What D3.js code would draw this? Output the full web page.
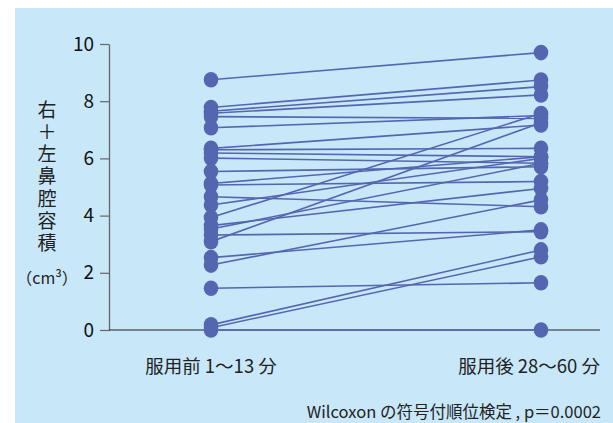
<!DOCTYPE html>
<html><head><meta charset="utf-8">
<script src="https://cdn.jsdelivr.net/npm/d3@7"></script>
<style>body{margin:0;background:#fff}svg{display:block}</style>
</head><body>
<svg id="c" width="613" height="423"></svg>
<script>
const categories = ["服用前 1〜13 分", "服用後 28〜60 分"];
const before = [8.75, 7.78, 7.65, 7.58, 7.46, 7.07, 6.35, 6.30, 6.19, 6.01, 5.54, 5.12, 5.07, 4.66, 4.37, 3.93, 3.65, 3.53, 3.32, 3.09, 2.53, 2.27, 1.46, 0.18, 0.08, 0.0];
const after  = [9.70, 8.74, 8.51, 8.22, 7.40, 7.50, 7.17, 6.35, 6.06, 5.83, 5.71, 6.06, 5.19, 4.31, 6.00, 7.57, 4.95, 5.83, 3.44, 7.25, 3.50, 4.55, 1.65, 2.80, 2.56, 0.0];
const yTicks = [0, 2, 4, 6, 8, 10];
const yTitle = "右＋左鼻腔容積";
const yUnit = "（cm³）";
const note = "Wilcoxon の符号付順位検定 , p＝0.0002";

const svg = d3.select("#c");
const font = "'Noto Sans CJK JP','Noto Sans',sans-serif";
svg.append("rect").attr("x", 15).attr("y", 8).attr("width", 598).attr("height", 415).attr("fill", "#c8e7f9");

const y = d3.scaleLinear().domain([0, 10]).range([330, 44]);
const x = d3.scalePoint().domain(categories).range([211, 541]);
const col = "#5566b0";

// y axis
const ya = svg.append("g").attr("transform", "translate(109,0)")
  .call(d3.axisLeft(y).tickValues(yTicks).tickSize(9).tickPadding(6).tickSizeOuter(0));
ya.select(".domain").attr("stroke", "#666").attr("stroke-width", 1.3);
ya.selectAll(".tick line").attr("stroke", "#666").attr("stroke-width", 1.2);
ya.selectAll(".tick text").attr("font-family", font).attr("font-size", 19).attr("fill", "#111");

// x axis baseline
svg.append("line").attr("x1", 109).attr("x2", 600).attr("y1", y(0)).attr("y2", y(0)).attr("stroke", "#222").attr("stroke-width", 1);

// lines
const pairs = before.map((b, i) => [b, after[i]]);
svg.append("g").selectAll("line").data(pairs).join("line")
  .attr("x1", x(categories[0])).attr("x2", x(categories[1]))
  .attr("y1", d => y(d[0])).attr("y2", d => y(d[1]))
  .attr("stroke", col).attr("stroke-width", 1.6);

// dots
const g = svg.append("g");
[before, after].forEach((arr, k) => {
  g.selectAll(null).data(arr).join("ellipse")
    .attr("cx", x(categories[k])).attr("cy", d => y(d))
    .attr("rx", 7.3).attr("ry", 7.8).attr("fill", col);
});

// y title (vertical writing)
svg.append("text").attr("x", 47).attr("y", 100)
  .attr("font-family", font).attr("font-size", 19).attr("fill", "#222")
  .style("writing-mode", "vertical-rl").style("text-orientation", "upright")
  .style("letter-spacing", "3.2px")
  .text(yTitle);
svg.append("text").attr("x", 47).attr("y", 284).attr("text-anchor", "middle")
  .attr("font-family", font).attr("font-size", 16).attr("fill", "#222").text(yUnit);

// category labels
svg.append("text").attr("x", x(categories[0])).attr("y", 373).attr("text-anchor", "middle")
  .attr("font-family", font).attr("font-size", 18.5).attr("fill", "#222").text(categories[0]);
svg.append("text").attr("x", 600).attr("y", 373).attr("text-anchor", "end")
  .attr("font-family", font).attr("font-size", 18.5).attr("fill", "#222").text(categories[1]);

// note
svg.append("text").attr("x", 601).attr("y", 418).attr("text-anchor", "end")
  .attr("font-family", font).attr("font-size", 16.5).attr("fill", "#222").text(note);
</script>
</body></html>
